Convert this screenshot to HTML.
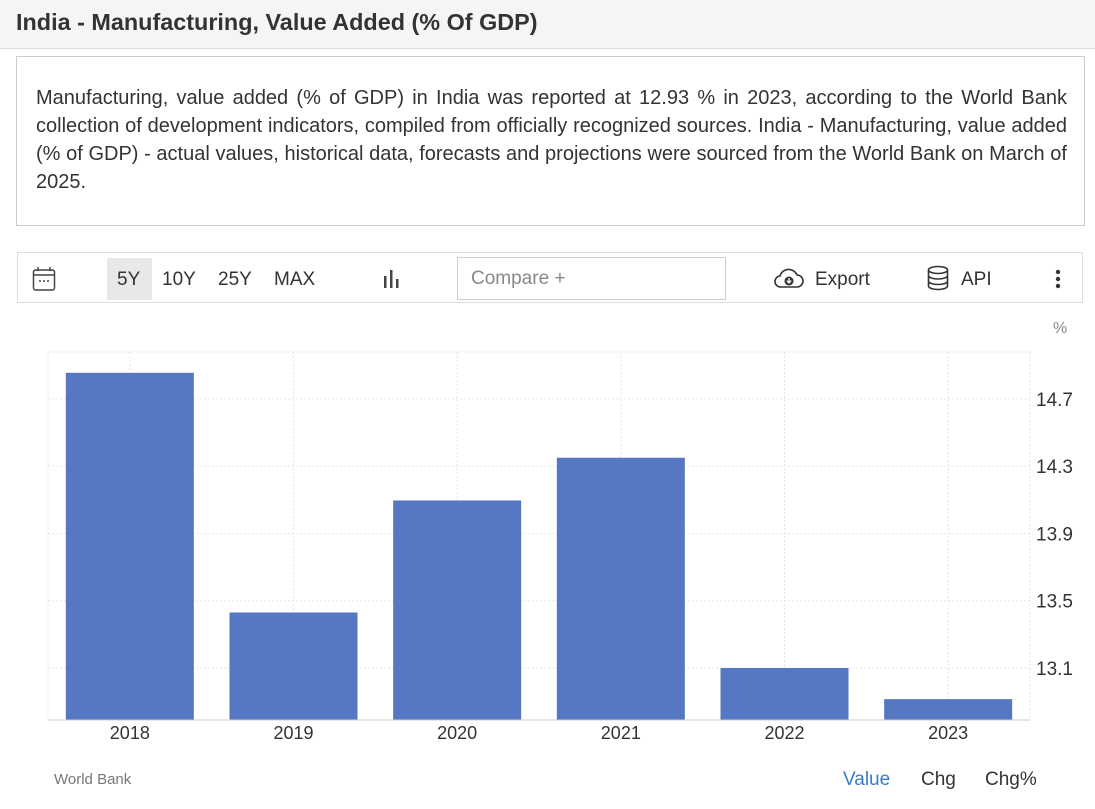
<!DOCTYPE html>
<html><head><meta charset="utf-8">
<style>
body{margin:0;width:1095px;height:809px;background:#fff;font-family:"Liberation Sans",sans-serif;overflow:hidden;position:relative;color:#333}
.hdr{position:absolute;left:0;top:0;width:1095px;height:48px;background:#f5f5f5;border-bottom:1px solid #ddd}
.hdr h1{margin:0;position:absolute;left:16px;top:9px;font-size:23.4px;font-weight:bold;color:#333}
.desc{position:absolute;left:16px;top:56px;width:1069px;height:170px;border:1px solid #ccc;box-sizing:border-box}
.desc p{margin:0;position:absolute;left:19px;top:27px;width:1031px;font-size:20px;line-height:28px;color:#333}
.desc p span{display:block;white-space:nowrap;text-align:justify;text-align-last:justify}
.desc p span.last{text-align:left;text-align-last:left}
.tb{position:absolute;left:17px;top:252px;width:1066px;height:51px;border:1px solid #ddd;box-sizing:border-box}
.t{position:absolute;font-size:19px;color:#333}
</style></head><body>
<div class="hdr"><h1>India - Manufacturing, Value Added (% Of GDP)</h1></div>
<div class="desc"><p><span style="white-space:normal">Manufacturing, value added (% of GDP) in India was reported at 12.93 % in 2023, according to the World Bank</span><span style="white-space:normal">collection of development indicators, compiled from officially recognized sources. India - Manufacturing, value added</span><span style="white-space:normal">(% of GDP) - actual values, historical data, forecasts and projections were sourced from the World Bank on March of</span><span class="last">2025.</span></p></div>
<div class="tb"></div>
<svg style="position:absolute;left:32px;top:266px" width="24" height="26"><rect x="1.5" y="4" width="21" height="20" rx="2" fill="none" stroke="#444" stroke-width="1.5"/><line x1="1.5" y1="9" x2="22.5" y2="9" stroke="#444" stroke-width="1.5"/><line x1="6" y1="1" x2="6" y2="5" stroke="#444" stroke-width="1.5"/><line x1="18" y1="1" x2="18" y2="5" stroke="#444" stroke-width="1.5"/><circle cx="8" cy="15" r="1" fill="#444"/><circle cx="12" cy="15" r="1" fill="#444"/><circle cx="16" cy="15" r="1" fill="#444"/></svg>
<div style="position:absolute;left:107px;top:258px;width:45px;height:42px;background:#e8e8e8"></div>
<span class="t" style="left:117px;top:269px">5Y</span>
<span class="t" style="left:162px;top:269px">10Y</span>
<span class="t" style="left:218px;top:269px">25Y</span>
<span class="t" style="left:274px;top:269px">MAX</span>
<svg style="position:absolute;left:382px;top:268px" width="20" height="22"><rect x="2" y="8" width="2.5" height="12" fill="#444"/><rect x="8" y="2" width="2.5" height="18" fill="#444"/><rect x="14" y="11" width="2.5" height="9" fill="#444"/></svg>
<div style="position:absolute;left:457px;top:257px;width:269px;height:43px;border:1px solid #ccc;box-sizing:border-box"><span class="t" style="left:13px;top:10px;color:#888">Compare +</span></div>
<svg style="position:absolute;left:773px;top:267px" width="32" height="24"><path d="M8 20 H24 A6 6 0 0 0 24 8 A9 9 0 0 0 7 9 A5.5 5.5 0 0 0 8 20Z" fill="none" stroke="#333" stroke-width="1.6"/><circle cx="16" cy="14" r="4.5" fill="#333"/><path d="M13.8 13.5 L16 16 L18.2 13.5 M16 11 V16" stroke="#fff" stroke-width="1.3" fill="none"/></svg>
<span class="t" style="left:815px;top:269px">Export</span>
<svg style="position:absolute;left:927px;top:265px" width="22" height="27"><ellipse cx="11" cy="5" rx="9.5" ry="3.5" fill="none" stroke="#333" stroke-width="1.6"/><path d="M1.5 5 V21 A9.5 3.5 0 0 0 20.5 21 V5 M1.5 10.5 A9.5 3.5 0 0 0 20.5 10.5 M1.5 16 A9.5 3.5 0 0 0 20.5 16" fill="none" stroke="#333" stroke-width="1.6"/></svg>
<span class="t" style="left:961px;top:269px">API</span>
<svg style="position:absolute;left:1054px;top:269px" width="8" height="22"><circle cx="4" cy="3" r="2.2" fill="#333"/><circle cx="4" cy="10" r="2.2" fill="#333"/><circle cx="4" cy="17" r="2.2" fill="#333"/></svg>
<svg id="chart" style="position:absolute;left:0;top:0" width="1095" height="809"></svg>
<span style="position:absolute;left:54px;top:771px;font-size:15px;color:#777">World Bank</span>
<span class="t" style="left:843px;top:769px;color:#3a7bc8">Value</span>
<span class="t" style="left:921px;top:769px">Chg</span>
<span class="t" style="left:985px;top:769px">Chg%</span>
<script>
const categories=["2018","2019","2020","2021","2022","2023"];
const values=[14.855,13.43,14.096,14.35,13.10,12.915];
const yTicks=[13.1,13.5,13.9,14.3,14.7];
const NS="http://www.w3.org/2000/svg";
const svg=document.getElementById('chart');
const x0=48,x1=1030,yBase=720,yTop=352;
const pxPerUnit=168.2;
const y=v=>668-(v-13.1)*pxPerUnit;
const band=(x1-x0)/categories.length;
const xc=i=>x0+band*(i+0.5);
function mk(t,a){const e=document.createElementNS(NS,t);for(const k in a)e.setAttribute(k,a[k]);svg.appendChild(e);return e;}
let g=mk('line',{x1:x0,x2:x1,y1:yTop,y2:yTop,stroke:'#e6e6e6','stroke-dasharray':'2,2'});

yTicks.forEach(v=>{const l=mk('line',{x1:x0,x2:x1,y1:y(v),y2:y(v),stroke:'#e6e6e6','stroke-dasharray':'2,2'});

const t=mk('text',{x:1036,y:y(v)+7,'font-size':19,fill:'#333','font-family':'Liberation Sans, sans-serif'});t.textContent=v.toFixed(1);
});
[x0,x1].concat(categories.map((c,i)=>xc(i))).forEach(xx=>{const l=mk('line',{x1:xx,x2:xx,y1:yTop,y2:yBase,stroke:'#e6e6e6','stroke-dasharray':'2,2'});
});
categories.forEach((c,i)=>{const r=mk('rect',{x:xc(i)-64,width:128,y:y(values[i]),height:yBase-y(values[i]),fill:'#5677c2'});

const t=mk('text',{x:xc(i),y:739,'text-anchor':'middle','font-size':18,fill:'#333','font-family':'Liberation Sans, sans-serif'});t.textContent=c;
});
const b=mk('line',{x1:x0,x2:x1,y1:yBase,y2:yBase,stroke:'#ccc'});

const u=mk('text',{x:1053,y:333,'font-size':16,fill:'#888','font-family':'Liberation Sans, sans-serif'});u.textContent='%';

</script>
</body></html>
